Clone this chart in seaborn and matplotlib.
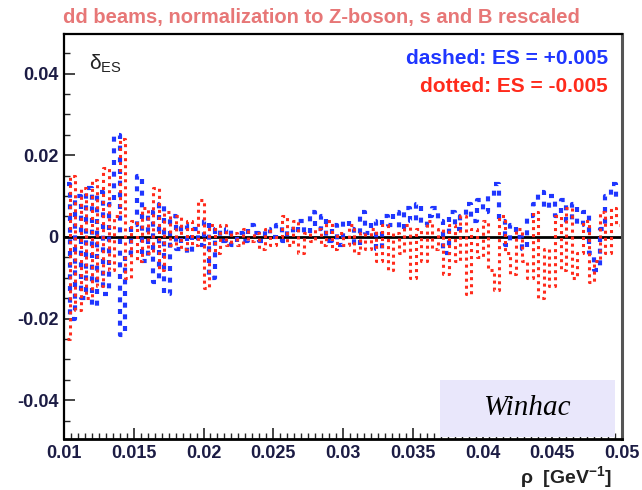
import numpy as np
import pandas as pd
import matplotlib
matplotlib.use("Agg")
import matplotlib.pyplot as plt
from matplotlib.patches import Rectangle
from matplotlib.ticker import MultipleLocator
import seaborn as sns

# ---------------- data ----------------
rho_min, rho_max, n_bins = 0.01, 0.05, 100

delta_es_plus = [  # dashed, ES = +0.005
    0.013, -0.020, 0.010, -0.015, 0.012, -0.017, 0.011, -0.014, 0.008, 0.025,
    -0.024, -0.004, 0.003, 0.015, -0.006, 0.006, -0.011, 0.008, -0.014, 0.005,
    -0.003, 0.003, -0.004, 0.002, -0.002, 0.004, -0.010, 0.002, -0.001, 0.002,
    -0.002, 0.001, -0.001, 0.003, 0.001, -0.001, 0.002, 0.000, 0.003, -0.001,
    0.002, 0.001, 0.004, 0.001, 0.006, 0.002, 0.005, -0.001, 0.003, -0.002,
    0.004, 0.002, -0.002, 0.006, 0.001, 0.004, -0.003, 0.005, 0.003, 0.006,
    0.002, 0.007, 0.004, 0.008, 0.003, 0.005, 0.007, 0.004, -0.004, 0.006,
    0.002, 0.005, 0.008, 0.004, 0.009, 0.006, 0.010, 0.013, 0.004, -0.002,
    0.003, 0.000, -0.003, 0.005, 0.008, 0.011, 0.007, 0.010, 0.005, 0.009,
    0.004, 0.008, 0.003, 0.006, -0.004, -0.008, 0.002, 0.010, 0.013, 0.009,
]
delta_es_minus = [  # dotted, ES = -0.005
    -0.025, 0.015, -0.018, 0.012, -0.015, 0.014, -0.012, 0.017, -0.008, 0.005,
    0.024, -0.010, 0.004, -0.006, 0.007, -0.004, 0.012, -0.008, 0.006, -0.002,
    0.005, -0.003, 0.004, -0.002, 0.009, -0.0125, 0.003, -0.004, 0.003, -0.002,
    0.001, -0.002, 0.002, -0.001, 0.001, -0.003, 0.002, -0.002, 0.000, 0.005,
    -0.002, 0.004, -0.004, 0.001, -0.001, 0.002, -0.002, 0.004, -0.003, 0.001,
    -0.002, 0.003, -0.004, 0.001, -0.003, 0.002, -0.006, 0.003, -0.008, 0.001,
    -0.004, 0.003, -0.010, 0.002, -0.006, 0.004, -0.003, 0.002, -0.009, 0.003,
    -0.006, 0.005, -0.014, 0.002, -0.005, 0.004, -0.008, -0.013, 0.005, -0.004,
    -0.009, 0.002, -0.006, -0.010, 0.006, -0.015, -0.003, -0.012, 0.005, -0.008,
    0.007, -0.010, -0.004, 0.004, -0.011, -0.006, 0.006, -0.004, 0.007, 0.003,
]

x_ticks = [0.01, 0.015, 0.02, 0.025, 0.03, 0.035, 0.04, 0.045, 0.05]
x_tick_labels = ["0.01", "0.015", "0.02", "0.025", "0.03", "0.035", "0.04", "0.045", "0.05"]
y_ticks = [-0.04, -0.02, 0.0, 0.02, 0.04]
y_tick_labels = ["-0.04", "-0.02", "0", "0.02", "0.04"]

title_text = "dd beams, normalization to Z-boson, s and B rescaled"
legend_plus = "dashed: ES = +0.005"
legend_minus = "dotted: ES = -0.005"

# ---------------- style ----------------
sns.set_style("ticks")
plt.rcParams["font.family"] = ["Liberation Sans", "DejaVu Sans"]
plt.rcParams["mathtext.fontset"] = "custom"
plt.rcParams["mathtext.rm"] = "Liberation Sans"
plt.rcParams["mathtext.it"] = "Liberation Sans:italic"
plt.rcParams["mathtext.bf"] = "Liberation Sans:bold"

edges = np.linspace(rho_min, rho_max, n_bins + 1)
centers = 0.5 * (edges[:-1] + edges[1:])
df = pd.DataFrame({"rho": np.concatenate([centers, centers]),
                   "delta": np.concatenate([delta_es_plus, delta_es_minus]),
                   "series": ["plus"] * n_bins + ["minus"] * n_bins})

fig = plt.figure(figsize=(6.42, 4.90), dpi=100)
ax = fig.add_axes([64 / 642, 1 - 439 / 490, 558 / 642, 405 / 490])

blue = "#1f36ff"
red = "#ff2b1c"

ax.axhline(0, color="black", lw=2.0, zorder=1)

sns.lineplot(data=df[df.series == "minus"], x="rho", y="delta", ax=ax,
             color=red, lw=2.2, drawstyle="steps-mid", estimator=None,
             linestyle=(0, (1.0, 1.3)), zorder=3, legend=False)
sns.lineplot(data=df[df.series == "plus"], x="rho", y="delta", ax=ax,
             color=blue, lw=3.0, drawstyle="steps-mid", estimator=None,
             linestyle=(0, (1.2, 1.6)), zorder=2, legend=False)

ax.set_xlim(rho_min, rho_max)
ax.set_ylim(-0.0495, 0.0497)

tick_color = "#1c1c44"
ax.set_xticks(x_ticks)
ax.set_xticklabels(x_tick_labels, fontweight="bold", fontsize=13, color=tick_color)
ax.set_yticks(y_ticks)
ax.set_yticklabels(y_tick_labels, fontweight="bold", fontsize=13, color=tick_color)
ax.xaxis.set_minor_locator(MultipleLocator(0.0005))
ax.yaxis.set_minor_locator(MultipleLocator(0.005))
ax.tick_params(which="major", direction="in", length=8, width=1.2, pad=4)
ax.tick_params(which="minor", direction="in", length=4, width=1.0)
ax.tick_params(top=False, right=False, which="both")

for s in ax.spines.values():
    s.set_color("black")
    s.set_linewidth(1.6)
ax.spines["right"].set_color("#555555")
ax.spines["right"].set_linewidth(2.2)
ax.spines["bottom"].set_linewidth(2.0)

ax.set_xlabel("")
ax.set_ylabel("")

fig.text(0.5, 1 - 17 / 490, title_text, ha="center", va="center",
         color="#e77777", fontsize=14.5, fontweight="bold")

ax.text(0.045, 0.955, r"δ$_{\rm ES}$", transform=ax.transAxes,
        ha="left", va="top", fontsize=15, color="#222222")
ax.text(0.975, 0.94, legend_plus, transform=ax.transAxes, ha="right", va="center",
        color=blue, fontsize=15, fontweight="bold")
ax.text(0.975, 0.87, legend_minus, transform=ax.transAxes, ha="right", va="center",
        color=red, fontsize=15, fontweight="bold")

ax.add_patch(Rectangle((0.674, 0.005), 0.313, 0.141, transform=ax.transAxes,
                       facecolor="#e9e7fb", edgecolor="none", zorder=4))
ax.text(0.83, 0.077, "Winhac", transform=ax.transAxes, ha="center", va="center",
        fontsize=21, style="italic", family="Liberation Serif", color="black", zorder=5)

fig.text(612 / 642, 1 - 477 / 490, r"ρ  [GeV$^{\mathbf{-1}}$]", ha="right", va="center",
         fontsize=14, fontweight="bold", color="#222222")

fig.savefig("out.png", dpi=100)
